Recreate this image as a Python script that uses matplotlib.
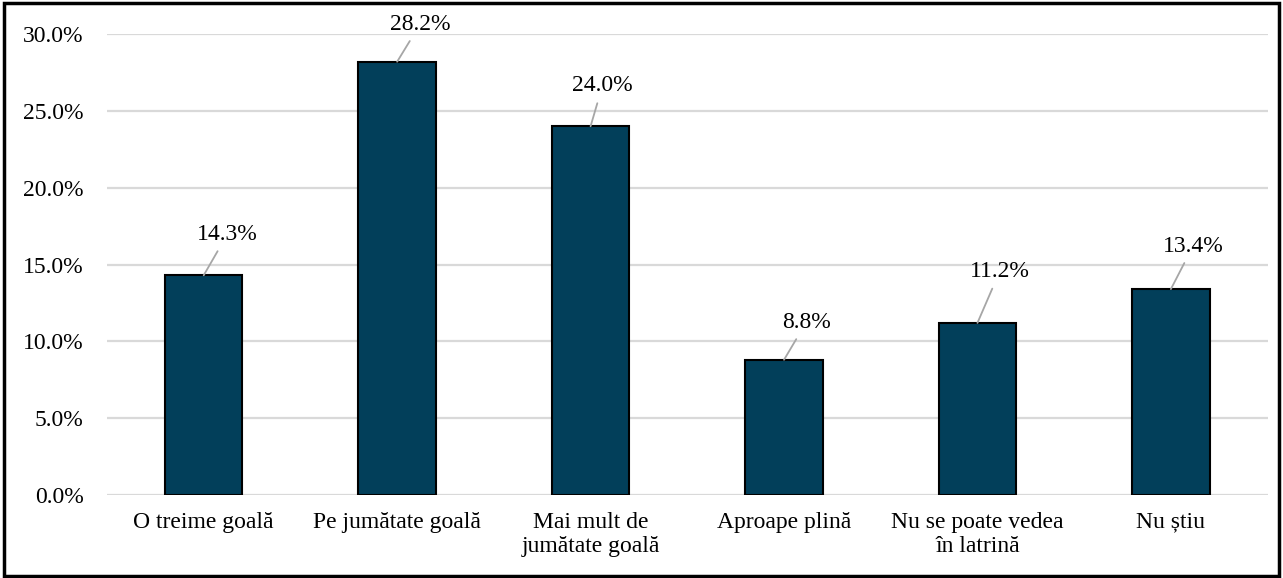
import matplotlib
matplotlib.use("Agg")
import matplotlib.pyplot as plt
import matplotlib.patches as patches
from matplotlib.ticker import FuncFormatter, MultipleLocator

categorii = ["O treime goală", "Pe jumătate goală", "Mai mult de\njumătate goală",
             "Aproape plină", "Nu se poate vedea\nîn latrină", "Nu știu"]
procente = [14.3, 28.2, 24.0, 8.8, 11.2, 13.4]

# decalaj (puncte) intre varful barei si eticheta
decalaje = [(17, 29.5), (16.5, 27), (8.5, 29), (16, 27), (16, 37), (16, 31)]

plt.rcParams["font.family"] = ["Liberation Serif", "DejaVu Serif"]
plt.rcParams["font.size"] = 17

fig = plt.figure(figsize=(12.83, 5.78), dpi=100)
ax = fig.add_axes([0.0834, 0.1436, 0.9046, 0.7975])

x = range(len(categorii))
ax.bar(x, procente, width=0.4, color="#023f5a", edgecolor="black", linewidth=1.5, zorder=3)

for i, v in enumerate(procente):
    ax.annotate("%.1f%%" % v, xy=(i, v), xytext=decalaje[i], textcoords="offset points",
                ha="center", va="center", fontsize=17, zorder=4,
                arrowprops=dict(arrowstyle="-", color="#a6a6a6", lw=1.3, shrinkA=3, shrinkB=0))

ax.set_xlim(-0.5, len(categorii) - 0.5)
ax.set_ylim(0, 30)
ax.yaxis.set_major_locator(MultipleLocator(5))
ax.yaxis.set_major_formatter(FuncFormatter(lambda v, p: "%.1f%%" % v))
ax.grid(axis="y", color="#d9d9d9", linewidth=1.6, zorder=0)
ax.set_xticks(list(x))
ax.set_xticklabels(categorii)
ax.tick_params(axis="both", length=0)
ax.tick_params(axis="y", pad=17)
ax.tick_params(axis="x", pad=12)
for s in ax.spines.values():
    s.set_visible(False)

# chenar negru in jurul figurii
fig.patches.append(patches.Rectangle((0.003, 0.003), 0.994, 0.992, transform=fig.transFigure,
                                     fill=False, edgecolor="black", linewidth=2.5))

fig.savefig("out.png", dpi=100)
